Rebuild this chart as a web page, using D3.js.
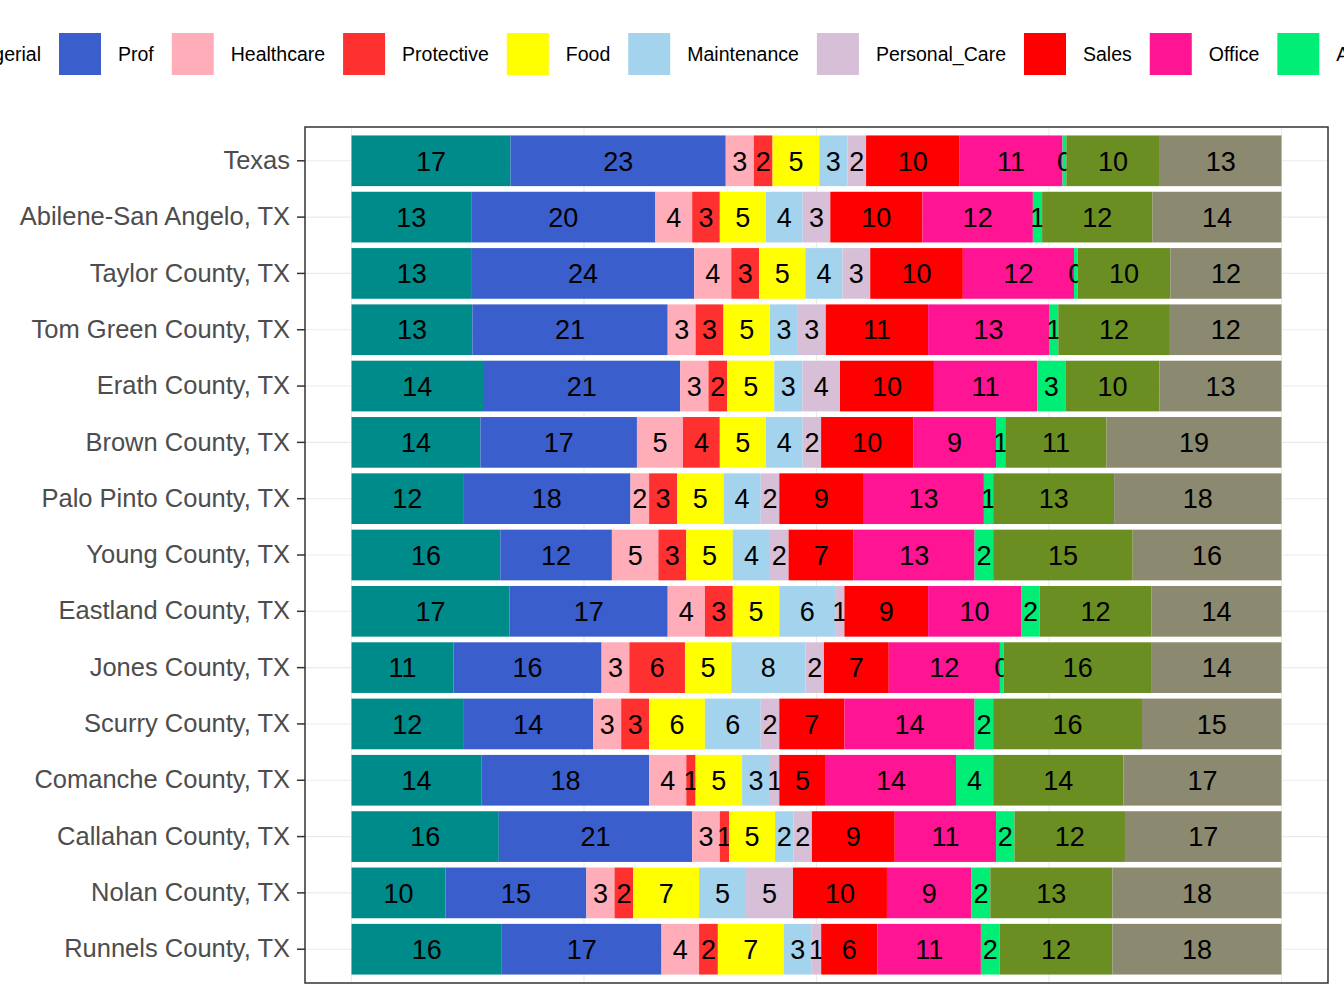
<!DOCTYPE html>
<html>
<head>
<meta charset="utf-8">
<script src="https://cdn.jsdelivr.net/npm/d3@7"></script>
<style>
  body { margin: 0; background: #fff; }
  svg { font-family: Arial, "Liberation Sans", sans-serif; }
</style>
</head>
<body>
<svg id="chart" width="1344" height="1008"></svg>
<script>
// occupation groups, in stacking order
const groups = ["Managerial", "Prof", "Healthcare", "Protective", "Food", "Maintenance",
  "Personal_Care", "Sales", "Office", "Agriculture", "Construction", "Production"];
const colors = ["#008B8B", "#3A5FCD", "#FFAEB9", "#FF3030", "#FFFF00", "#A4D3EE",
  "#D8BFD8", "#FF0000", "#FF1493", "#00EE76", "#6B8E23", "#8B8970"];

const places = ["Texas", "Abilene-San Angelo, TX", "Taylor County, TX", "Tom Green County, TX",
  "Erath County, TX", "Brown County, TX", "Palo Pinto County, TX", "Young County, TX",
  "Eastland County, TX", "Jones County, TX", "Scurry County, TX", "Comanche County, TX",
  "Callahan County, TX", "Nolan County, TX", "Runnels County, TX"];

// percent share per place, same order as groups
const shares = [
  [17, 23, 3, 2, 5, 3, 2, 10, 11, 0.4, 10, 13],
  [13, 20, 4, 3, 5, 4, 3, 10, 12, 1, 12, 14],
  [13, 24, 4, 3, 5, 4, 3, 10, 12, 0.4, 10, 12],
  [13, 21, 3, 3, 5, 3, 3, 11, 13, 1, 12, 12],
  [14, 21, 3, 2, 5, 3, 4, 10, 11, 3, 10, 13],
  [14, 17, 5, 4, 5, 4, 2, 10, 9, 1, 11, 19],
  [12, 18, 2, 3, 5, 4, 2, 9, 13, 1, 13, 18],
  [16, 12, 5, 3, 5, 4, 2, 7, 13, 2, 15, 16],
  [17, 17, 4, 3, 5, 6, 1, 9, 10, 2, 12, 14],
  [11, 16, 3, 6, 5, 8, 2, 7, 12, 0.4, 16, 14],
  [12, 14, 3, 3, 6, 6, 2, 7, 14, 2, 16, 15],
  [14, 18, 4, 1, 5, 3, 1, 5, 14, 4, 14, 17],
  [16, 21, 3, 1, 5, 2, 2, 9, 11, 2, 12, 17],
  [10, 15, 3, 2, 7, 5, 5, 10, 9, 2, 13, 18],
  [16, 17, 4, 2, 7, 3, 1, 6, 11, 2, 12, 18]
];

const svg = d3.select("#chart")
const panel = {left: 305, right: 1328, top: 127, bottom: 983}

const x = d3.scaleLinear().domain([-0.05, 1.05]).range([panel.left, panel.right])
const y = d3.scaleBand().domain(places).range([panel.top, panel.bottom]).paddingInner(0.1).paddingOuter(0.15)
const color = d3.scaleOrdinal().domain(groups).range(colors)

// panel background + grid
svg.append("rect").attr("x", panel.left).attr("y", panel.top)
  .attr("width", panel.right - panel.left).attr("height", panel.bottom - panel.top)
  .attr("fill", "#fff")
svg.selectAll(".vgrid").data([0, 0.25, 0.5, 0.75, 1]).enter().append("line")
  .attr("x1", d => x(d)).attr("x2", d => x(d))
  .attr("y1", panel.top).attr("y2", panel.bottom)
  .attr("stroke", "#ebebeb").attr("stroke-width", 1.1)
svg.selectAll(".hgrid").data(places).enter().append("line")
  .attr("x1", panel.left).attr("x2", panel.right)
  .attr("y1", d => y(d) + y.bandwidth() / 2).attr("y2", d => y(d) + y.bandwidth() / 2)
  .attr("stroke", "#ebebeb").attr("stroke-width", 1.1)

// stack, normalised to 1 per row
const rows = places.map((p, i) => {
  const r = {place: p}
  const tot = d3.sum(shares[i])
  groups.forEach((g, j) => { r[g] = shares[i][j] / tot; r[g + "_v"] = shares[i][j] })
  return r
})
const series = d3.stack().keys(groups)(rows)

const layer = svg.selectAll(".layer").data(series).enter().append("g")
  .attr("fill", d => color(d.key))

layer.selectAll("rect").data(d => d.map(s => Object.assign(s, {key: d.key}))).enter().append("rect")
  .attr("x", d => x(d[0]))
  .attr("width", d => x(d[1]) - x(d[0]))
  .attr("y", d => y(d.data.place))
  .attr("height", y.bandwidth())

layer.selectAll("text").data(d => d).enter().append("text")
  .attr("x", d => (x(d[0]) + x(d[1])) / 2)
  .attr("y", d => y(d.data.place) + y.bandwidth() / 2)
  .attr("dy", "0.36em")
  .attr("text-anchor", "middle")
  .attr("fill", "#000")
  .style("font-size", "27px")
  .text(d => Math.round(d.data[d.key + "_v"]))

// panel border
svg.append("rect").attr("x", panel.left).attr("y", panel.top)
  .attr("width", panel.right - panel.left).attr("height", panel.bottom - panel.top)
  .attr("fill", "none").attr("stroke", "#333").attr("stroke-width", 1.5)

// y axis
const yAxis = svg.append("g").attr("transform", `translate(${panel.left},0)`)
  .call(d3.axisLeft(y).tickSize(8).tickPadding(7))
yAxis.select(".domain").remove()
yAxis.selectAll("line").attr("stroke", "#333").attr("stroke-width", 1.5)
yAxis.selectAll("text").attr("fill", "#4d4d4d").style("font-size", "25.5px")

// legend, laid out from the Prof key
const legend = svg.append("g")
const items = legend.selectAll("g").data(groups).enter().append("g")
items.append("rect").attr("width", 42).attr("height", 42).attr("y", 33)
  .attr("fill", d => color(d))
items.append("text").attr("x", 59).attr("y", 54).attr("dy", "0.36em")
  .style("font-size", "19.5px").attr("fill", "#000").text(d => d)
const widths = items.select("text").nodes().map(n => n.getComputedTextLength())
const pos = []
let cur = 59
groups.forEach((g, i) => { if (i >= 1) { pos[i] = cur; cur += 59 + widths[i] + 18 } })
pos[0] = 59 - 18 - widths[0] - 59
items.attr("transform", (d, i) => `translate(${pos[i]},0)`)
</script>
</body>
</html>
